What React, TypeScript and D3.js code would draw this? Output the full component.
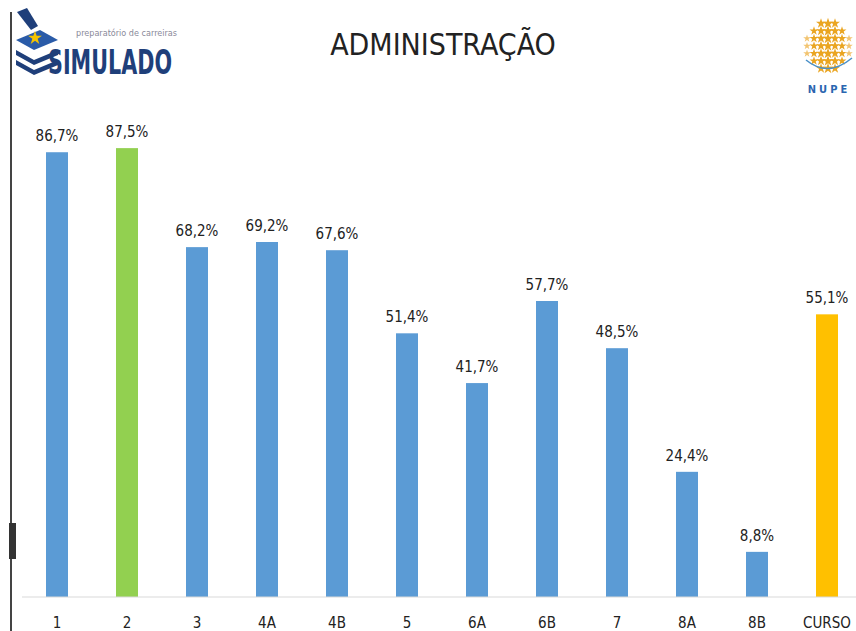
import React from 'react';
import * as d3 from 'd3';

const categories = ['1', '2', '3', '4A', '4B', '5', '6A', '6B', '7', '8A', '8B', 'CURSO'];
const values = [86.7, 87.5, 68.2, 69.2, 67.6, 51.4, 41.7, 57.7, 48.5, 24.4, 8.8, 55.1];
const highlight = ['normal', 'best', 'normal', 'normal', 'normal', 'normal', 'normal', 'normal', 'normal', 'normal', 'normal', 'total'];

const W = 856, H = 631;
const font = '"Liberation Sans Narrow", "DejaVu Sans Condensed", "Open Sans", sans-serif';

const colorOf = (k: string) => (k === 'best' ? '#92D050' : k === 'total' ? '#FFC000' : '#5B9BD5');
const fmt = (v: number) => v.toFixed(1).replace('.', ',') + '%';

function Stars() {
  // globe of small yellow stars for the NUPE logo
  const stars: JSX.Element[] = [];
  const cx = 828, cy = 46, r = 25;
  const star = d3.symbol().type(d3.symbolStar);
  for (let row = -3; row <= 3; row++) {
    const yy = cy + row * 7.5;
    const half = Math.sqrt(Math.max(0, r * r - (row * 7.5) ** 2));
    for (let col = -4; col <= 4; col++) {
      const xx = cx + col * 7;
      if (Math.abs(xx - cx) > half) continue;
      const s = 1 - Math.abs(xx - cx) / (r * 1.6);
      stars.push(
        <path key={row + '_' + col} transform={`translate(${xx},${yy})`}
          d={star.size(38 * s)() || ''} fill={Math.abs(col) > 2 ? '#f2c470' : '#eaa521'} />
      );
    }
  }
  return <g>{stars}</g>;
}

export default function App() {
  const x = d3.scaleBand().domain(categories).range([22, 862]).paddingInner(0.686).paddingOuter(0.343);
  const y = d3.scaleLinear().domain([0, 100]).range([597, 84]);
  const bw = 22;

  return (
    <svg width={W} height={H} style={{ position: 'absolute', left: 0, top: 0, background: '#fff' }}>
      {/* slide border */}
      <line x1={11} y1={12} x2={11} y2={H} stroke="#444" strokeWidth={2} />
      <rect x={9} y={523} width={7} height={36} fill="#333" />

      {/* SIMULADO logo */}
      <g>
        <path d="M17,12 L27,8 L38,26 L31,30 Z" fill="#1f3f7a" />
        <path d="M16,40 L40,30 L58,40 L34,50 Z" fill="#2a5ba8" />
        <path d="M16,50 L34,60 L58,50 L58,55 L34,65 L16,55 Z" fill="#1f3f7a" />
        <path d="M16,60 L34,70 L58,60 L58,65 L34,75 L16,65 Z" fill="#1f3f7a" />
        <path transform="translate(35,38)" d={d3.symbol().type(d3.symbolStar).size(60)() || ''} fill="#f5c400" />
        <text x={76} y={36} fontSize={9} fill="#8a8a9a" fontFamily={font}>preparatório de carreiras</text>
        <text x={48} y={74} fontSize={34} fontWeight="bold" fill="#1f3f7a" fontFamily={font}
          textLength={124} lengthAdjust="spacingAndGlyphs">SIMULADO</text>
      </g>

      {/* NUPE logo */}
      <Stars />
      <path d="M806,60 Q828,78 852,58" fill="none" stroke="#4a90c8" strokeWidth={1.5} />
      <text x={829} y={93} textAnchor="middle" fontSize={11} fontWeight="bold" fill="#2a66b0"
        fontFamily={font} letterSpacing={3}>NUPE</text>

      {/* title */}
      <text x={443} y={55} textAnchor="middle" fontSize={30} fill="#222" fontFamily={font}>ADMINISTRAÇÃO</text>

      {/* bars */}
      {categories.map((c, i) => {
        const cx = (x(c) || 0) + x.bandwidth() / 2;
        return (
          <g key={c}>
            <rect x={cx - bw / 2} y={y(values[i])} width={bw} height={y(0) - y(values[i])} fill={colorOf(highlight[i])} />
            <text x={cx} y={y(values[i]) - 11} textAnchor="middle" fontSize={15} fill="#222" fontFamily={font}>
              {fmt(values[i])}
            </text>
            <text x={cx} y={628} textAnchor="middle" fontSize={15} fill="#222" fontFamily={font}>{c}</text>
          </g>
        );
      })}
      <line x1={22} x2={W} y1={y(0)} y2={y(0)} stroke="#d9d9d9" strokeWidth={1} />
    </svg>
  );
}
